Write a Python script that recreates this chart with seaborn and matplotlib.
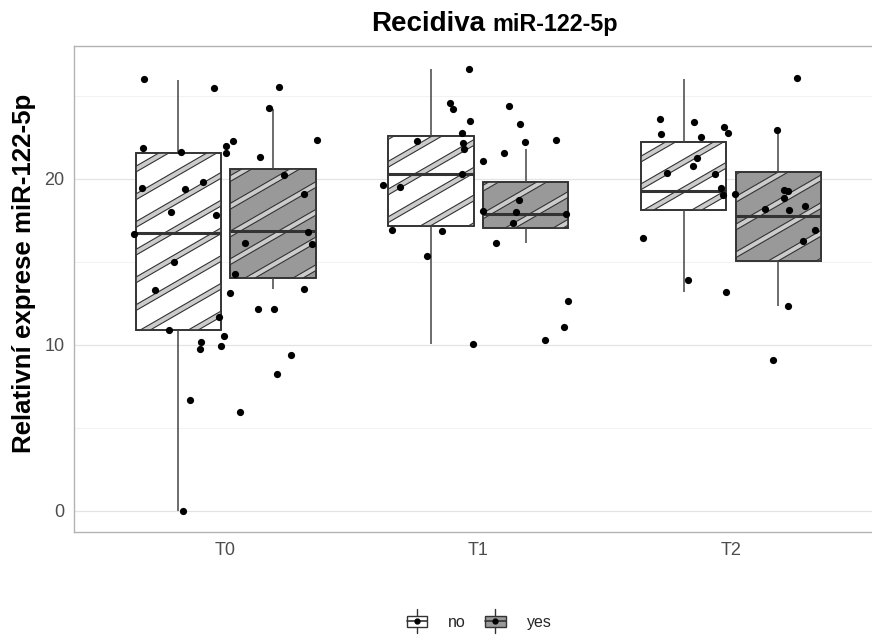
import numpy as np
import pandas as pd
import matplotlib
matplotlib.use("Agg")
import matplotlib.pyplot as plt
import seaborn as sns
from matplotlib.patches import Polygon, PathPatch, Rectangle
from matplotlib.lines import Line2D
from matplotlib.legend_handler import HandlerBase

# ---------------- data ----------------
times = ["T0", "T1", "T2"]
groups = ["no", "yes"]

# box summaries: lower whisker, Q1, median, Q3, upper whisker
box_no_T0 = [0.02, 10.88, 16.73, 21.55, 25.96]
box_yes_T0 = [13.39, 14.04, 16.83, 20.62, 24.22]
box_no_T1 = [10.04, 17.17, 20.30, 22.55, 26.63]
box_yes_T1 = [16.12, 17.01, 17.91, 19.82, 21.79]
box_no_T2 = [13.21, 18.11, 19.26, 22.23, 26.02]
box_yes_T2 = [12.35, 15.04, 17.79, 20.44, 23.15]

# individual measurements (jittered points)
points_T0 = [26.0, 25.52, 25.46, 24.24, 22.31, 22.25, 21.97, 21.83, 21.61, 21.55,
             21.34, 20.22, 19.80, 19.42, 19.40, 19.08, 18.03, 17.83, 16.79, 16.67,
             16.14, 16.06, 15.02, 14.26, 13.39, 13.33, 13.11, 12.15, 12.15, 11.67,
             10.88, 10.54, 10.16, 9.96, 9.78, 9.42, 8.23, 6.65, 5.95, 0.02]
points_T1 = [26.63, 24.56, 24.40, 24.22, 23.49, 23.29, 22.79, 22.33, 22.27, 22.19,
             22.15, 21.81, 21.55, 21.08, 20.32, 19.60, 19.50, 18.73, 18.07, 17.99,
             17.91, 17.37, 16.91, 16.85, 16.12, 15.38, 12.63, 11.08, 10.30, 10.04]
points_T2 = [26.06, 23.63, 23.43, 23.15, 22.95, 22.77, 22.67, 22.51, 21.27, 20.78,
             20.34, 20.32, 19.42, 19.30, 19.26, 19.08, 19.05, 18.87, 18.39, 18.17,
             18.11, 16.89, 16.46, 16.27, 13.92, 13.19, 12.35, 9.08]

title_main = "Recidiva"
title_sub = "miR-122-5p"
ylabel = "Relativní exprese miR-122-5p"

# ---------------- tables ----------------
box_lists = {("T0", "no"): box_no_T0, ("T0", "yes"): box_yes_T0,
             ("T1", "no"): box_no_T1, ("T1", "yes"): box_yes_T1,
             ("T2", "no"): box_no_T2, ("T2", "yes"): box_yes_T2}
box_df = pd.DataFrame([(t, g, v) for (t, g), vals in box_lists.items() for v in vals],
                      columns=["time", "group", "value"])
pts = {"T0": points_T0, "T1": points_T1, "T2": points_T2}
pt_df = pd.DataFrame([(t, v) for t, vals in pts.items() for v in vals],
                     columns=["time", "value"])

# ---------------- figure ----------------
sns.set_theme(style="white")
plt.rcParams["font.family"] = ["Liberation Sans", "DejaVu Sans"]

W, H = 872, 635
fig = plt.figure(figsize=(W / 100, H / 100), dpi=100)
ax = fig.add_axes([74 / W, 1 - 532 / H, 1 - 74 / W, (532 - 46) / H])
ax.set_facecolor("white")

DARK = "#333333"
sns.boxplot(data=box_df, x="time", y="value", hue="group", order=times,
            hue_order=groups, palette={"no": "#ffffff", "yes": "#999999"},
            width=0.75, gap=0.1, showcaps=False, showfliers=False,
            linecolor=DARK, linewidth=1.2, legend=False,
            medianprops={"linewidth": 2.2, "color": DARK},
            whiskerprops={"linewidth": 1.1, "color": "#444444"},
            ax=ax)

ax.set_xlim(-0.6, 2.558)
ax.set_ylim(-1.27, 28.0)

# grid & axes styling
ax.set_yticks([0, 10, 20])
ax.set_yticks([5, 15, 25], minor=True)
ax.grid(True, which="major", color="#e4e4e4", linewidth=0.9)
ax.grid(True, which="minor", axis="y", color="#f0f0f0", linewidth=0.6)
ax.set_axisbelow(True)
for side in ["left", "bottom", "top"]:
    ax.spines[side].set_color("#b3b3b3")
    ax.spines[side].set_linewidth(1.0)
    ax.spines[side].set_visible(True)
ax.spines["right"].set_visible(False)
ax.tick_params(axis="both", which="major", length=4, width=0.8, color="#b3b3b3",
               labelcolor="#4d4d4d", labelsize=13, pad=3)
ax.tick_params(axis="both", which="minor", length=0)
ax.set_xlabel("")
ax.set_ylabel("")

# ---------------- stripe pattern inside boxes ----------------
fig.canvas.draw()
boxes = list(ax.patches)
inv = ax.transData.inverted()
spacing = 24.0
band = 5.0
th = np.deg2rad(30)
d = np.array([np.cos(th), np.sin(th)])
nrm = np.array([-np.sin(th), np.cos(th)])
for bp in boxes:
    path = bp.get_path().transformed(bp.get_transform())
    ext = path.get_extents()
    c0 = np.array([(ext.x0 + ext.x1) / 2, (ext.y0 + ext.y1) / 2])
    R = np.hypot(ext.width, ext.height)
    k = int(R / spacing) + 2
    z = bp.get_zorder()
    for i in range(-k, k + 1):
        c = c0 + nrm * (i * spacing + spacing / 2)
        poly = np.array([c - d * R - nrm * band / 2, c + d * R - nrm * band / 2,
                         c + d * R + nrm * band / 2, c - d * R + nrm * band / 2])
        pg = Polygon(inv.transform(poly), closed=True, facecolor="#cccccc",
                     edgecolor=DARK, linewidth=0.8, zorder=z + 0.05)
        ax.add_patch(pg)
        pg.set_clip_path(bp)
    outline = PathPatch(bp.get_path(), transform=bp.get_transform(),
                        facecolor="none", edgecolor=DARK, linewidth=1.2,
                        zorder=z + 0.1)
    ax.add_patch(outline)
for ln in ax.lines:
    ln.set_zorder(ln.get_zorder() + 1)

ax.set_xlim(-0.6, 2.558)
ax.set_ylim(-1.27, 28.0)

# ---------------- jittered points ----------------
np.random.seed(7)
sns.stripplot(data=pt_df, x="time", y="value", order=times, jitter=0.38,
              color="black", size=5.2, linewidth=0, ax=ax, zorder=10)
ax.set_xlim(-0.6, 2.558)
ax.set_ylim(-1.27, 28.0)
ax.set_xlabel("")
ax.set_ylabel("")

# ---------------- titles ----------------
fig.text(24 / W, 1 - 273 / H, ylabel, rotation=90, ha="center", va="center",
         fontsize=18.6, fontweight="bold", color="black")
fig.text(371 / W, 1 - 31 / H, title_main, ha="left", va="baseline",
         fontsize=20, fontweight="bold", color="black")
fig.text(492 / W, 1 - 31 / H, title_sub, ha="left", va="baseline",
         fontsize=16.8, fontweight="bold", color="black")

# ---------------- legend ----------------
class BoxKey(HandlerBase):
    def create_artists(self, legend, orig_handle, xdescent, ydescent, width,
                       height, fontsize, trans):
        face = orig_handle.get_facecolor()
        cx = width / 2 - xdescent
        cy = height / 2 - ydescent
        bh = height * 0.75
        whisk = Line2D([cx, cx], [cy - height * 0.85, cy + height * 0.85],
                       color=DARK, lw=1.0, transform=trans)
        rect = Rectangle((-xdescent, cy - bh / 2), width, bh, facecolor=face,
                         edgecolor=DARK, lw=1.0, transform=trans)
        med = Line2D([-xdescent, width - xdescent], [cy, cy], color=DARK, lw=1.2,
                     transform=trans)
        dot = Line2D([cx], [cy], marker="o", markersize=3.5, color="black",
                     linestyle="none", transform=trans)
        return [whisk, rect, med, dot]

handles = [Rectangle((0, 0), 1, 1, facecolor="#ffffff"),
           Rectangle((0, 0), 1, 1, facecolor="#999999")]
fig.legend(handles, groups, handler_map={Rectangle: BoxKey()}, loc="center",
           bbox_to_anchor=(479 / W, 1 - 622 / H), ncol=2, frameon=False,
           fontsize=11.5, handlelength=1.3, handleheight=1.0, handletextpad=1.3,
           columnspacing=1.2)

fig.savefig("out.png", dpi=100, facecolor="white")
